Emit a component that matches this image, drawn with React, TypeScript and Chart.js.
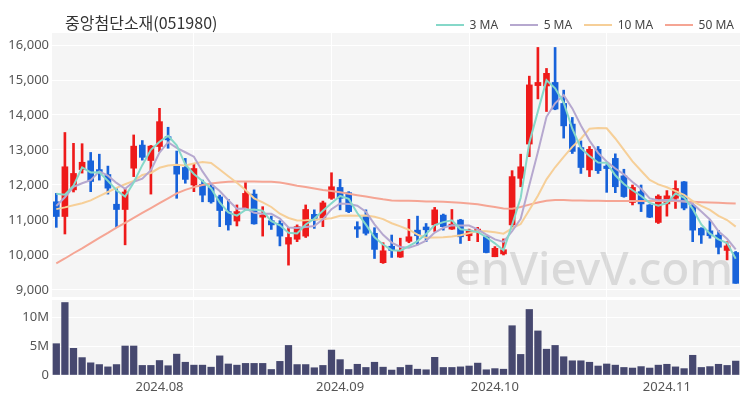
import React, { useEffect, useRef } from 'react';
import { Chart, registerables } from 'chart.js';

Chart.register(...registerables);

const TITLE = '중앙첨단소재(051980)';

const DATES = [
  '2024-07-16', '2024-07-17', '2024-07-18', '2024-07-19', '2024-07-22', '2024-07-23', '2024-07-24', '2024-07-25', '2024-07-26', '2024-07-29',
  '2024-07-30', '2024-07-31', '2024-08-01', '2024-08-02', '2024-08-05', '2024-08-06', '2024-08-07', '2024-08-08', '2024-08-09', '2024-08-12',
  '2024-08-13', '2024-08-14', '2024-08-16', '2024-08-19', '2024-08-20', '2024-08-21', '2024-08-22', '2024-08-23', '2024-08-26', '2024-08-27',
  '2024-08-28', '2024-08-29', '2024-08-30', '2024-09-02', '2024-09-03', '2024-09-04', '2024-09-05', '2024-09-06', '2024-09-09', '2024-09-10',
  '2024-09-11', '2024-09-12', '2024-09-13', '2024-09-19', '2024-09-20', '2024-09-23', '2024-09-24', '2024-09-25', '2024-09-26', '2024-09-27',
  '2024-09-30', '2024-10-02', '2024-10-04', '2024-10-07', '2024-10-08', '2024-10-10', '2024-10-11', '2024-10-14', '2024-10-15', '2024-10-16',
  '2024-10-17', '2024-10-18', '2024-10-21', '2024-10-22', '2024-10-23', '2024-10-24', '2024-10-25', '2024-10-28', '2024-10-29', '2024-10-30',
  '2024-10-31', '2024-11-01', '2024-11-04', '2024-11-05', '2024-11-06', '2024-11-07', '2024-11-08', '2024-11-11', '2024-11-12', '2024-11-13',
];

const OPENS = [
  11520, 11100, 11860, 12440, 12690, 12440, 12300, 11450, 11300, 12480,
  13140, 12700, 13100, 13380, 12540, 12500, 12000, 12020, 11930, 11660,
  11240, 10970, 11330, 11740, 11080, 10980, 10900, 10310, 10450, 10540,
  11160, 11020, 11620, 11930, 11780, 10810, 11110, 10620, 9780, 10250,
  9940, 10390, 10710, 10800, 10860, 11140, 10740, 11000, 10550, 10670,
  10520, 9950, 10030, 10860, 12190, 13170, 14840, 14830, 14930, 14330,
  13740, 13070, 12430, 13020, 12540, 12760, 12260, 11500, 11810, 11430,
  10930, 11460, 11620, 12090, 11400, 10760, 10690, 10570, 10130, 10070,
];

const HIGHS = [
  11760, 13500, 13190, 13180, 12930, 12880, 12540, 11900, 11900, 13430,
  13270, 13130, 14190, 13650, 12970, 12760, 12600, 12140, 12050, 11710,
  11590, 11430, 12070, 11860, 11380, 11110, 10980, 10790, 10860, 11430,
  11290, 11540, 12350, 12160, 11810, 10950, 11290, 10780, 10350, 10570,
  10480, 11020, 11110, 10900, 11360, 11170, 11300, 11020, 10740, 10790,
  10540, 10240, 10460, 12410, 12880, 15110, 15930, 15330, 15930, 14710,
  13930, 13260, 13100, 13100, 12580, 12890, 12450, 12000, 12000, 11440,
  11720, 11840, 12120, 12100, 11460, 10780, 10980, 10700, 10380, 10100,
];

const LOWS = [
  10790, 10600, 11800, 12340, 11810, 12140, 11740, 10790, 10290, 12240,
  12710, 11740, 12950, 13050, 11620, 12050, 11810, 11520, 11480, 10810,
  10710, 10830, 11290, 10880, 10540, 10730, 10260, 9710, 10380, 10500,
  10760, 10810, 11590, 11290, 11210, 10500, 10570, 9900, 9760, 9930,
  9930, 10350, 10290, 10380, 10670, 10710, 10730, 10330, 10410, 10380,
  10060, 9950, 10000, 10810, 11950, 12810, 14460, 14100, 14150, 13340,
  12900, 12330, 12240, 12330, 11790, 11780, 11650, 11430, 11240, 11070,
  10900, 11110, 11330, 11290, 10380, 10330, 10480, 10030, 9860, 9190,
];

const CLOSES = [
  11100, 12520, 12330, 12650, 12100, 12340, 11910, 11300, 11800, 13110,
  12790, 13110, 13810, 13290, 12310, 12160, 12470, 11710, 11520, 11270,
  10860, 11240, 11760, 10890, 11140, 10860, 10540, 10500, 10810, 11300,
  11000, 11490, 11950, 11620, 11240, 10740, 10620, 10160, 10120, 10130,
  10120, 10520, 10550, 10720, 11290, 10810, 10880, 10520, 10710, 10740,
  10070, 10190, 10150, 12240, 12520, 14860, 14930, 15190, 14170, 13690,
  12960, 12500, 13020, 12410, 12470, 11950, 11670, 11930, 11460, 11080,
  11680, 11690, 11900, 11340, 10710, 10570, 10550, 10220, 10260, 9190,
];

const VOLUMES = [
  5400000, 12500000, 4600000, 3000000, 2100000, 1800000, 1400000, 1800000, 5000000, 5000000,
  1650000, 1650000, 2500000, 1600000, 3600000, 2200000, 1700000, 1700000, 1350000, 3300000,
  1900000, 1700000, 2000000, 2000000, 2000000, 950000, 2350000, 5100000, 1800000, 1800000,
  1250000, 1650000, 4300000, 2650000, 950000, 1850000, 1300000, 2200000, 1350000, 850000,
  1300000, 1700000, 1000000, 900000, 3050000, 1300000, 1300000, 1400000, 1550000, 2050000,
  900000, 1100000, 1000000, 8500000, 3550000, 11300000, 7600000, 4450000, 5100000, 3150000,
  2450000, 2450000, 2200000, 1550000, 1900000, 1700000, 1300000, 1200000, 1450000, 1200000,
  1700000, 1850000, 1400000, 1100000, 3400000, 1300000, 1450000, 1850000, 1650000, 2400000,
];

// Moving-average values for the first bars (window not yet full)
const MA3_LEAD = [11750, 11720];
const MA5_LEAD = [11400, 11650, 11950, 12050];
const MA10_LEAD = [11310, 11360, 11420, 11480, 11560, 11680, 11800, 11920, 12020];

// 50-day MA
const MA50 = [
  9760, 9900, 10050, 10190, 10340, 10490, 10630, 10780, 10920, 11060,
  11200, 11340, 11480, 11620, 11760, 11860, 11940, 12000, 12040, 12070,
  12090, 12100, 12100, 12100, 12090, 12090, 12070, 12030, 11980, 11940,
  11900, 11860, 11830, 11790, 11750, 11710, 11670, 11630, 11590, 11560,
  11550, 11550, 11540, 11530, 11530, 11520, 11510, 11490, 11470, 11450,
  11410, 11370, 11330, 11320, 11370, 11440, 11500, 11550, 11570, 11570,
  11560, 11560, 11550, 11550, 11545, 11545, 11545, 11540, 11540, 11540,
  11540, 11540, 11540, 11530, 11520, 11510, 11500, 11490, 11480, 11470,
];

const PRICE_TICKS = [9000, 10000, 11000, 12000, 13000, 14000, 15000, 16000];
const VOLUME_TICKS = [0, 5000000, 10000000];

const MA_LABELS = ['3 MA', '5 MA', '10 MA', '50 MA'];
const MA_COLORS = ['#86d8c9', '#b6a8cf', '#f6cf98', '#f5a594'];

const RED = '#ee1a1a';
const BLUE = '#1762da';
const VOL_COLOR = '#46486f';
const PLOT_BG = '#f5f5f5';
const FONT = "'Noto Sans', 'DejaVu Sans', sans-serif";

function movingAverage(closes: number[], n: number, lead: number[]): number[] {
  return closes.map((_, i) => {
    if (i < n - 1) return lead[i];
    let s = 0;
    for (let k = i - n + 1; k <= i; k++) s += closes[k];
    return s / n;
  });
}

function monthLabel(i: number): string {
  if (i === 0) return '';
  const d = DATES[i];
  const p = DATES[i - 1];
  if (d.slice(0, 7) !== p.slice(0, 7)) return d.slice(0, 4) + '.' + d.slice(5, 7);
  return '';
}

const bgPlugin = {
  id: 'plotBg',
  beforeDraw(chart: any) {
    const { ctx, chartArea, scales } = chart;
    ctx.save();
    ctx.fillStyle = PLOT_BG;
    const y = scales.y;
    const v = scales.v;
    ctx.fillRect(chartArea.left, y.top, chartArea.right - chartArea.left, y.bottom - y.top - 1);
    ctx.fillRect(chartArea.left, v.top + 2, chartArea.right - chartArea.left, v.bottom - v.top - 2);
    ctx.restore();
  },
  beforeDatasetsDraw(chart: any) {
    const { ctx, chartArea } = chart;
    ctx.save();
    ctx.font = "500 46px 'Noto Sans', sans-serif";
    ctx.fillStyle = 'rgba(185,185,185,0.45)';
    ctx.textAlign = 'right';
    ctx.textBaseline = 'alphabetic';
    ctx.fillText('enVievV.com', chartArea.right - 7, 285);
    ctx.restore();
  },
};

export default function App() {
  const ref = useRef<HTMLCanvasElement | null>(null);

  useEffect(() => {
    document.body.style.margin = '0';
    const canvas = ref.current;
    if (!canvas) return;

    const ma3 = movingAverage(CLOSES, 3, MA3_LEAD);
    const ma5 = movingAverage(CLOSES, 5, MA5_LEAD);
    const ma10 = movingAverage(CLOSES, 10, MA10_LEAD);
    const maData = [ma3, ma5, ma10, MA50];

    const candleColors = CLOSES.map((c, i) => (c >= OPENS[i] ? RED : BLUE));

    const lineSets = MA_LABELS.map((label, k) => ({
      type: 'line' as const,
      label,
      data: maData[k],
      borderColor: MA_COLORS[k],
      backgroundColor: MA_COLORS[k],
      borderWidth: 2,
      pointRadius: 0,
      tension: 0,
      yAxisID: 'y',
      order: k === 3 ? 1 : 0,
    }));

    const tickFont = { family: FONT, size: 13 };

    const chart = new Chart(canvas, {
      data: {
        labels: DATES,
        datasets: [
          ...lineSets,
          {
            type: 'bar',
            label: 'wick',
            data: LOWS.map((l, i) => [l, HIGHS[i]]),
            backgroundColor: candleColors,
            barThickness: 2,
            grouped: false,
            yAxisID: 'y',
            order: 3,
          },
          {
            type: 'bar',
            label: 'body',
            data: OPENS.map((o, i) => [o, CLOSES[i]]),
            backgroundColor: candleColors,
            barThickness: 6,
            grouped: false,
            yAxisID: 'y',
            order: 2,
          },
          {
            type: 'bar',
            label: 'volume',
            data: VOLUMES,
            backgroundColor: VOL_COLOR,
            barThickness: 6.6,
            grouped: false,
            yAxisID: 'v',
            order: 4,
          },
        ] as any,
      },
      options: {
        animation: false,
        responsive: false,
        maintainAspectRatio: false,
        devicePixelRatio: 1,
        layout: { padding: { top: 33, right: 10, left: 0, bottom: 0 } },
        plugins: {
          legend: { display: false },
          title: { display: false },
          tooltip: { enabled: false },
        },
        scales: {
          x: {
            type: 'category',
            offset: true,
            grid: {
              offset: false,
              drawTicks: false,
              color: (ctx: any) => (ctx.index > 0 && ctx.index % 16 === 0 ? '#ffffff' : 'rgba(0,0,0,0)'),
              lineWidth: 1,
            },
            border: { display: false },
            ticks: {
              autoSkip: false,
              maxRotation: 0,
              minRotation: 0,
              padding: 4,
              font: tickFont,
              color: '#555',
              callback: (_v: any, i: number) => monthLabel(i),
            },
            afterFit: (s: any) => {
              s.height = 25;
            },
          },
          v: {
            type: 'linear',
            position: 'left',
            stack: 'main',
            stackWeight: 77,
            min: 0,
            max: 13280000,
            grid: { color: '#ffffff', drawTicks: false },
            border: { display: false },
            ticks: {
              padding: 3,
              font: tickFont,
              color: '#555',
              callback: (v: any) => (Number(v) === 0 ? '0' : Math.round(Number(v) / 1000000) + 'M'),
            },
            afterBuildTicks: (s: any) => {
              s.ticks = VOLUME_TICKS.map((value) => ({ value }));
            },
            afterFit: (s: any) => {
              s.width = 52;
            },
          },
          y: {
            type: 'linear',
            position: 'left',
            stack: 'main',
            stackWeight: 265,
            min: 8771,
            max: 16343,
            grid: { color: '#ffffff', drawTicks: false },
            border: { display: false },
            ticks: {
              padding: 3,
              font: tickFont,
              color: '#555',
              callback: (v: any) => Number(v).toLocaleString('en-US'),
            },
            afterBuildTicks: (s: any) => {
              s.ticks = PRICE_TICKS.map((value) => ({ value }));
            },
            afterFit: (s: any) => {
              s.width = 52;
            },
          },
        },
      } as any,
      plugins: [bgPlugin],
    });

    return () => {
      chart.destroy();
    };
  }, []);

  return (
    <div style={{ position: 'relative', width: 750, height: 400, background: '#fff', overflow: 'hidden' }}>
      <canvas ref={ref} width={750} height={400} style={{ display: 'block', width: 750, height: 400 }} />
      <div
        style={{
          position: 'absolute',
          left: 65,
          top: 12,
          fontFamily: "'Noto Sans CJK KR', 'Noto Sans', sans-serif",
          fontSize: 16,
          lineHeight: '20px',
          color: '#333',
          whiteSpace: 'nowrap',
        }}
      >
        {TITLE}
      </div>
      <div
        style={{
          position: 'absolute',
          right: 16,
          top: 17,
          display: 'flex',
          alignItems: 'center',
          gap: 11.5,
          fontFamily: FONT,
          fontSize: 12,
          lineHeight: '16px',
          color: '#444',
          whiteSpace: 'nowrap',
        }}
      >
        {MA_LABELS.map((label, k) => (
          <div key={label} style={{ display: 'flex', alignItems: 'center' }}>
            <span style={{ display: 'inline-block', width: 28, height: 2, background: MA_COLORS[k], marginRight: 6 }} />
            <span>{label}</span>
          </div>
        ))}
      </div>
    </div>
  );
}
